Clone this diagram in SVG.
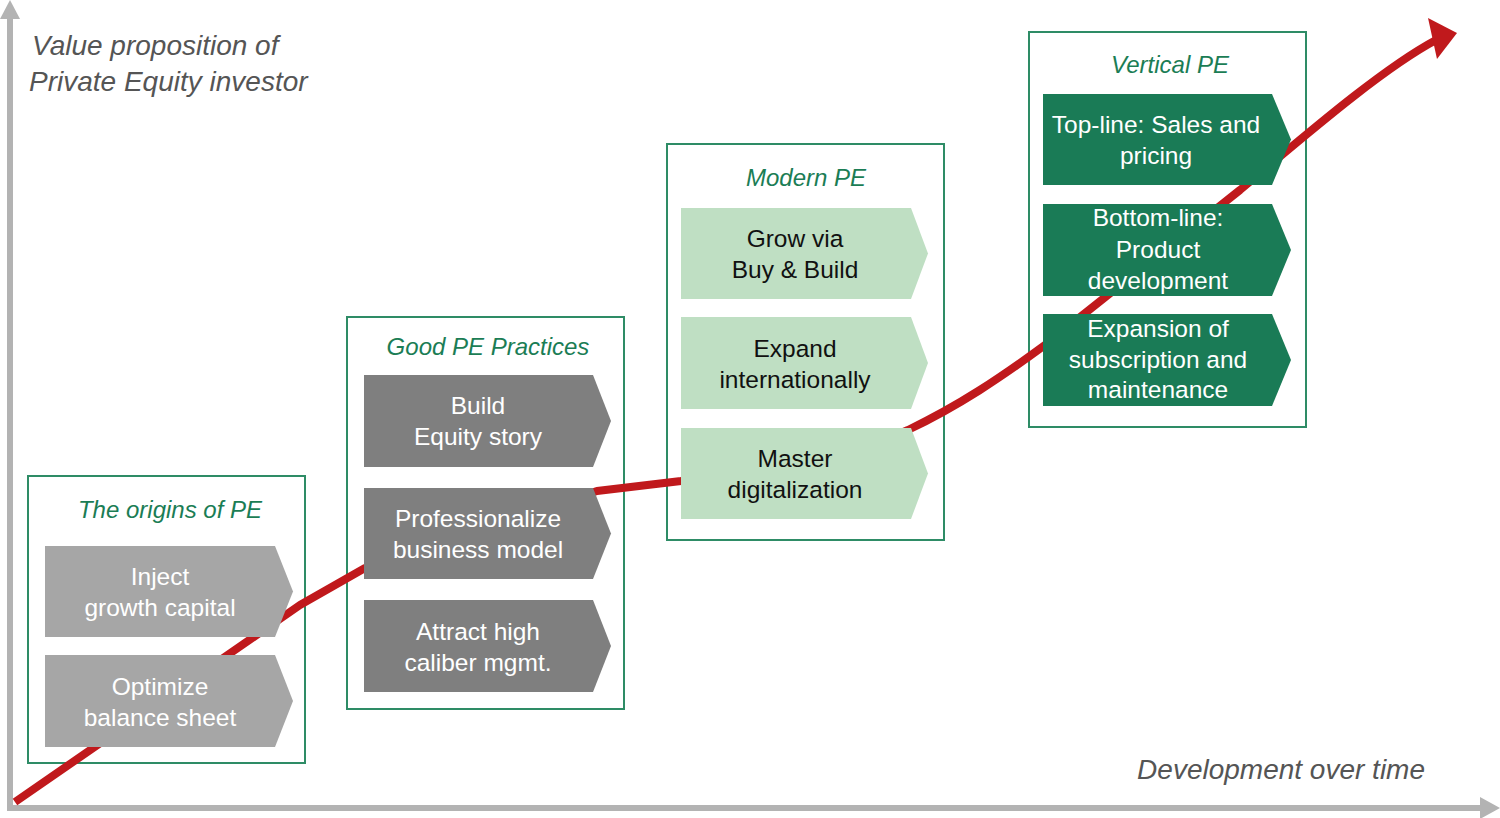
<svg xmlns="http://www.w3.org/2000/svg" width="1500" height="818" viewBox="0 0 1500 818">
<style>
.frame{fill:#fff;stroke:#2e8c66;stroke-width:2}
.title{font-family:"Liberation Sans",Arial,sans-serif;font-style:italic;font-size:24px;fill:#1b7d55;text-anchor:middle}
.axis-label{font-family:"Liberation Sans",Arial,sans-serif;font-style:italic;font-size:28px;fill:#555}
.ct{font-family:"Liberation Sans",Arial,sans-serif;font-size:24.5px;text-anchor:middle}
.lg{fill:#a6a6a6}
.dg{fill:#7f7f7f}
.lgr{fill:#bfdfc3}
.dgr{fill:#1a7b56}
.w{fill:#fff}
.k{fill:#111}
.axis{stroke:#b3b3b3;stroke-width:6;fill:none}
.axhead{fill:#b3b3b3}
.curve{stroke:#c0191c;stroke-width:8;fill:none;stroke-linejoin:round}
</style>

<g id="axes">
  <line class="axis" x1="10" y1="16" x2="10" y2="811"/>
  <polygon class="axhead" points="0,19 10,0 20,19"/>
  <line class="axis" x1="7" y1="808" x2="1482" y2="808"/>
  <polygon class="axhead" points="1480,797 1500,808 1480,819"/>
  <text class="axis-label" x="32" y="55">Value proposition of</text>
  <text class="axis-label" x="29" y="91">Private Equity investor</text>
  <text class="axis-label" x="1425" y="779" text-anchor="end">Development over time</text>
</g>

<g id="frame-origins">
  <rect class="frame" x="28" y="476" width="277" height="287"/>
  <text class="title" x="170" y="518">The origins of PE</text>
</g>
<g id="frame-good">
  <rect class="frame" x="347" y="317" width="277" height="392"/>
  <text class="title" x="488" y="355">Good PE Practices</text>
</g>
<g id="frame-modern">
  <rect class="frame" x="667" y="144" width="277" height="396"/>
  <text class="title" x="806" y="186">Modern PE</text>
</g>
<g id="frame-vertical">
  <rect class="frame" x="1029" y="32" width="277" height="395"/>
  <text class="title" x="1170" y="73">Vertical PE</text>
</g>

<g id="connectors">
  <path class="curve" d="M15,802 L300,605 L365,568 L597,491 L681,481 L850,455 L908,430 C960,405 1000,378 1045,345 L1240,190 C1300,140 1380,70 1436,40"/>
  <polygon fill="#c0191c" points="1428,18 1457,33 1437,59"/>
</g>

<g id="inject">
  <polygon class="lg" points="45,546 275,546 293,591.5 275,637 45,637"/>
  <text class="ct w" x="160" y="585">Inject</text>
  <text class="ct w" x="160" y="616">growth capital</text>
</g>
<g id="optimize">
  <polygon class="lg" points="45,655 275,655 293,701 275,747 45,747"/>
  <text class="ct w" x="160" y="694.5">Optimize</text>
  <text class="ct w" x="160" y="725.5">balance sheet</text>
</g>

<g id="build">
  <polygon class="dg" points="364,375 593,375 611,421 593,467 364,467"/>
  <text class="ct w" x="478" y="414">Build</text>
  <text class="ct w" x="478" y="445">Equity story</text>
</g>
<g id="professionalize">
  <polygon class="dg" points="364,488 593,488 611,533.5 593,579 364,579"/>
  <text class="ct w" x="478" y="527">Professionalize</text>
  <text class="ct w" x="478" y="558">business model</text>
</g>
<g id="attract">
  <polygon class="dg" points="364,600 593,600 611,646 593,692 364,692"/>
  <text class="ct w" x="478" y="639.5">Attract high</text>
  <text class="ct w" x="478" y="670.5">caliber mgmt.</text>
</g>

<g id="grow">
  <polygon class="lgr" points="681,208 911,208 928,253.5 911,299 681,299"/>
  <text class="ct k" x="795" y="247">Grow via</text>
  <text class="ct k" x="795" y="278">Buy &amp; Build</text>
</g>
<g id="expand">
  <polygon class="lgr" points="681,317 911,317 928,363 911,409 681,409"/>
  <text class="ct k" x="795" y="356.5">Expand</text>
  <text class="ct k" x="795" y="387.5">internationally</text>
</g>
<g id="master">
  <polygon class="lgr" points="681,428 911,428 928,473.5 911,519 681,519"/>
  <text class="ct k" x="795" y="467">Master</text>
  <text class="ct k" x="795" y="498">digitalization</text>
</g>

<g id="topline">
  <polygon class="dgr" points="1043,94 1272,94 1291,139.5 1272,185 1043,185"/>
  <text class="ct w" x="1156" y="133">Top-line: Sales and</text>
  <text class="ct w" x="1156" y="164">pricing</text>
</g>
<g id="bottomline">
  <polygon class="dgr" points="1043,204 1272,204 1291,250 1272,296 1043,296"/>
  <text class="ct w" x="1158" y="226">Bottom-line:</text>
  <text class="ct w" x="1158" y="258">Product</text>
  <text class="ct w" x="1158" y="289">development</text>
</g>
<g id="expansion">
  <polygon class="dgr" points="1043,314 1272,314 1291,360 1272,406 1043,406"/>
  <text class="ct w" x="1158" y="337">Expansion of</text>
  <text class="ct w" x="1158" y="368">subscription and</text>
  <text class="ct w" x="1158" y="398">maintenance</text>
</g>
</svg>
